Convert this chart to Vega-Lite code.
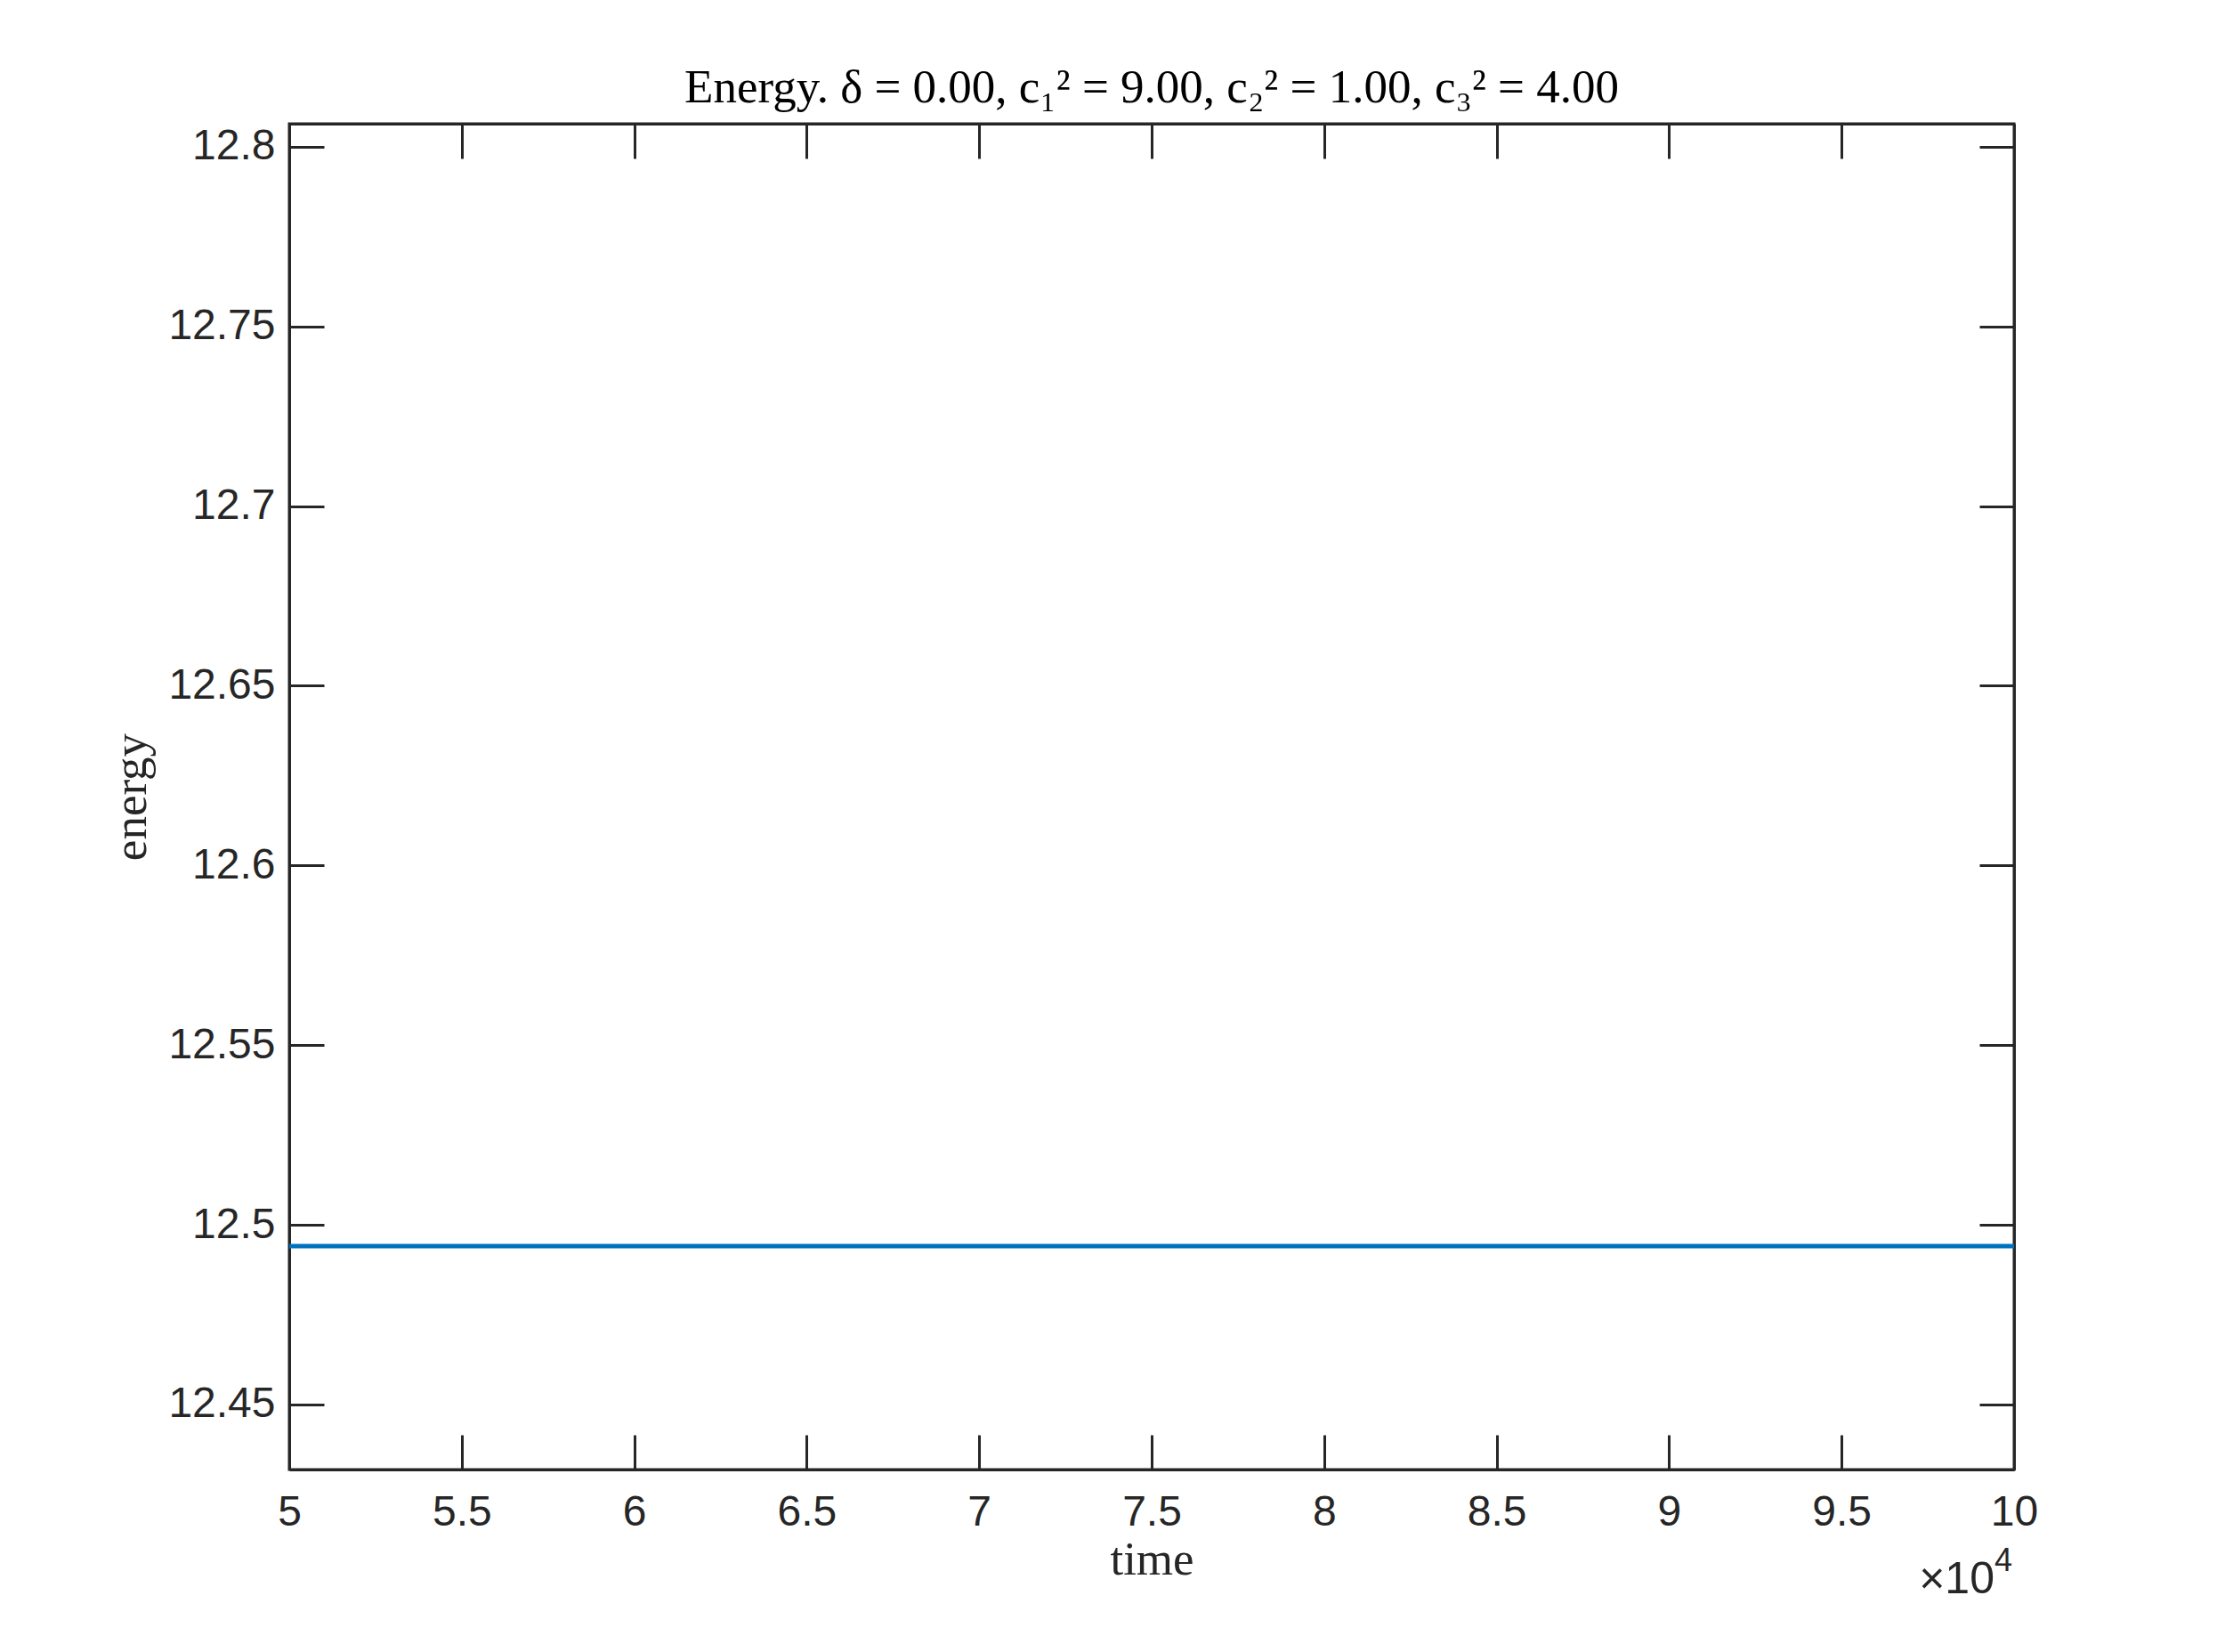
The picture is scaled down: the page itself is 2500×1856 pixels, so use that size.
{
  "$schema": "https://vega.github.io/schema/vega-lite/v6.json",
  "autosize": "none",
  "padding": {"left": 325, "top": 139, "right": 237, "bottom": 205},
  "width": 1938,
  "height": 1512,
  "background": "white",
  "title": {
    "text": "Energy.  δ = 0.00,  c₁² = 9.00,  c₂² = 1.00, c₃² = 4.00",
    "font": "Liberation Serif",
    "fontSize": 53,
    "fontWeight": "normal",
    "color": "#000000",
    "anchor": "middle",
    "baseline": "alphabetic",
    "offset": -30
  },
  "config": {
    "view": {"stroke": "#262626", "strokeWidth": 3},
    "axis": {
      "domainColor": "#262626",
      "domainWidth": 3,
      "tickColor": "#262626",
      "tickWidth": 3,
      "grid": false,
      "labelFont": "Liberation Sans",
      "labelFontSize": 48,
      "labelColor": "#262626",
      "titleFont": "Liberation Serif",
      "titleFontSize": 53,
      "titleFontWeight": "normal",
      "titleColor": "#262626"
    }
  },
  "datasets": {
    "energy": [
      {"time": 50000, "energy": 12.4941},
      {"time": 60000, "energy": 12.4941},
      {"time": 70000, "energy": 12.4941},
      {"time": 80000, "energy": 12.4941},
      {"time": 90000, "energy": 12.4941},
      {"time": 100000, "energy": 12.4941}
    ],
    "mult": [{"t": "×10"}],
    "exp": [{"t": "4"}]
  },
  "layer": [
    {
      "data": {"name": "energy"},
      "mark": {"type": "line", "color": "#0072BD", "strokeWidth": 5, "clip": true},
      "encoding": {
        "x": {
          "field": "time", "type": "quantitative",
          "scale": {"domain": [50000, 100000], "nice": false, "zero": false},
          "axis": {
            "orient": "bottom",
            "title": "time",
            "values": [50000, 55000, 60000, 65000, 70000, 75000, 80000, 85000, 90000, 95000, 100000],
            "labelExpr": "format(datum.value / 10000, '~g')",
            "tickSize": -39,
            "labelPadding": 63,
            "labelFlush": false,
            "labelOverlap": false,
            "titlePadding": 3
          }
        },
        "y": {
          "field": "energy", "type": "quantitative",
          "scale": {"domain": [12.4319, 12.8064], "nice": false, "zero": false},
          "axis": {
            "orient": "left",
            "title": "energy",
            "values": [12.45, 12.5, 12.55, 12.6, 12.65, 12.7, 12.75, 12.8],
            "labelExpr": "format(datum.value, '~g')",
            "tickSize": -39,
            "labelPadding": 55,
            "labelFlush": false,
            "labelOverlap": false,
            "titlePadding": 14
          }
        }
      }
    },
    {
      "data": {"name": "energy"},
      "mark": {"type": "line", "opacity": 0},
      "encoding": {
        "x": {
          "field": "time", "type": "quantitative",
          "axis": {
            "orient": "top",
            "title": null,
            "labels": false,
            "values": [50000, 55000, 60000, 65000, 70000, 75000, 80000, 85000, 90000, 95000, 100000],
            "tickSize": -39
          }
        },
        "y": {
          "field": "energy", "type": "quantitative",
          "axis": {
            "orient": "right",
            "title": null,
            "labels": false,
            "values": [12.45, 12.5, 12.55, 12.6, 12.65, 12.7, 12.75, 12.8],
            "tickSize": -39
          }
        }
      }
    },
    {
      "data": {"name": "mult"},
      "mark": {"type": "text", "align": "right", "baseline": "alphabetic", "font": "Liberation Sans", "fontSize": 50, "color": "#262626", "dx": -22, "dy": 139},
      "encoding": {
        "x": {"datum": 100000, "type": "quantitative", "axis": null},
        "y": {"datum": 12.4319, "type": "quantitative", "axis": null},
        "text": {"field": "t"}
      }
    },
    {
      "data": {"name": "exp"},
      "mark": {"type": "text", "align": "left", "baseline": "alphabetic", "font": "Liberation Sans", "fontSize": 36, "color": "#262626", "dx": -22, "dy": 114},
      "encoding": {
        "x": {"datum": 100000, "type": "quantitative", "axis": null},
        "y": {"datum": 12.4319, "type": "quantitative", "axis": null},
        "text": {"field": "t"}
      }
    }
  ],
  "resolve": {"axis": {"x": "independent", "y": "independent"}}
}
